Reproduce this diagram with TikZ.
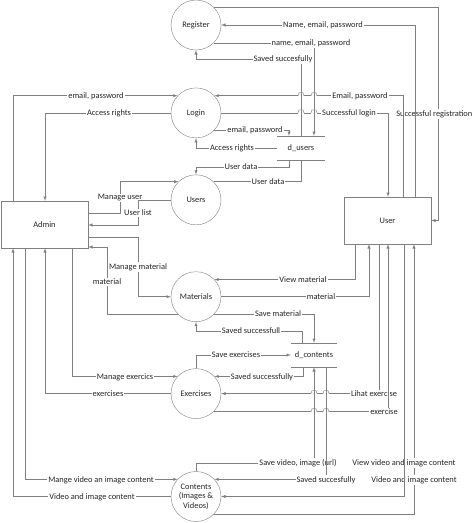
\documentclass[tikz,border=0pt]{standalone}
\usepackage{fontspec}
\setmainfont{Carlito}
\usetikzlibrary{positioning}
\usetikzlibrary{shapes}
\usetikzlibrary{arrows}

\begin{document}
\begin{tikzpicture}[x=1pt,y=-1pt,font=\fontsize{8.4}{9.4}\selectfont,
processo/.style={draw=black!50,circle,minimum size=50pt,inner sep=1pt,align=center,text=black!85},
entita/.style={draw=black!50,minimum width=87pt,minimum height=47pt,inner sep=0pt,text=black!85},
archivio/.style={minimum width=48pt,minimum height=24pt,inner sep=0pt,text=black!85},
flusso/.style={draw=black!50,line width=0.5pt,-latex},
linea/.style={draw=black!50,line width=0.5pt},
salto/.style={draw=black!40,line width=0.6pt},
etich/.style={fill=white,inner sep=1pt,text=black!85}
]
\useasboundingbox (0,0) rectangle (474,523);
\node[entita](admin) at (44.5,224.5){Admin};
\node[entita](user) at (387.5,220.5){User};
%--
\node[processo](reg) at (196,25){Register};
\node[processo,below=37.5pt of reg](login){Login};
\node[processo,below=36.5pt of login](users){Users};
\node[processo,below=46.5pt of users](mat){Materials};
\node[processo,below=46.5pt of mat](eser){Exercises};
\node[processo,below=52.5pt of eser](cont){Contents\\(Images \&\\Videos)};
%--
\node[archivio](du) at (301,148){d\_users};
\draw [linea] (du.north west) -- (du.north east) (du.south west) -- (du.south east);
\node[archivio,minimum width=46pt](dc) at (314,355){d\_contents};
\draw [linea] (dc.north west) -- (dc.north east) (dc.south west) -- (dc.south east);
%---- register
\draw [flusso] (reg.45) -| (user.east -| 438,0) -- (user.east);
\node[etich,anchor=east](t1) at (473.5,114){Successful registration};
\draw [flusso] (415,0 |- user.north) |- (reg.east);
\node[etich](t2) at (323,25){Name, email, password};
\draw [flusso] (reg.-46) -| (314,0 |- du.north);
\node[etich](t3) at (311,43){name, email, password};
\draw [flusso] (301,0 |- du.north) |- (reg.south |- 0,59) -- (reg.south);
\node[etich](t4) at (283,59){Saved succesfully};
%---- login
\draw [flusso] (13,0 |- admin.north) |- (login.137);
\node[etich](t5) at (96,96){email, password};
\draw [flusso] (login.west) -| (45,0 |- admin.north);
\node[etich](t6) at (109,113){Access rights};
\draw [linea] (403,0 |- user.north) |- (317,0 |- login.43);
\draw [linea] (311,0 |- login.43) -- (304,0 |- login.43);
\draw [flusso] (298,0 |- login.43) -- (login.43);
\draw [salto] (317,0 |- login.43) -- ++(-1,-3) -- ++(-4,0) -- ++(-1,3) (304,0 |- login.43) -- ++(-1,-3) -- ++(-4,0) -- ++(-1,3);
\node[etich](t7) at (360,96){Email, password};
\draw [linea] (login.east) -- (298,0 |- login.east);
\draw [linea] (304,0 |- login.east) -- (311,0 |- login.east);
\draw [flusso] (317,0 |- login.east) -| (388,0 |- user.north);
\draw [salto] (298,0 |- login.east) -- ++(1,-3) -- ++(4,0) -- ++(1,3) (311,0 |- login.east) -- ++(1,-3) -- ++(4,0) -- ++(1,3);
\node[etich](t8) at (349,113){Successful login};
\draw [flusso] (login.-43) -| (289,0 |- du.north);
\node[etich](t9) at (255,130){email, password};
\draw [flusso] (du.west) -| (login.south);
\node[etich](t10) at (232,148){Access rights};
%---- users
\draw [flusso] (289,0 |- du.south) |- (users.north |- 0,167) -- (users.north);
\node[etich](t11) at (241,167){User data};
\draw [linea] (users.46) -| (301,0 |- du.south);
\node[etich](t12) at (268,182){User data};
\draw [flusso] (admin.east |- 0,213) -| (120,0 |- users.134) -- (users.134);
\node[etich](t13) at (120,198){Manage user};
\draw [flusso] (users.west) -- (138,0 |- users.west) |- (admin.east |- 0,225);
\node[etich](t14) at (138,213){User list};
%---- materials
\draw [flusso] (admin.east |- 0,237) -| (138,0 |- mat.west) -- (mat.west);
\node[etich](t15) at (138,267){Manage material};
\draw [flusso] (mat.-137) -| (107,247) -- (admin.east |- 0,247);
\node[etich](t16) at (107,282){material};
\draw [flusso] (355,0 |- user.south) |- (mat.43);
\node[etich](t17) at (303,280){View material};
\draw [flusso] (mat.east) -| (369,0 |- user.south);
\node[etich](t18) at (321,297){material};
\draw [flusso] (mat.-43) -| (314,0 |- dc.north);
\node[etich](t19) at (278,314){Save material};
\draw [flusso] (302,0 |- dc.north) |- (mat.south |- 0,331) -- (mat.south);
\node[etich](t20) at (251,331){Saved successfull};
%---- exercises
\draw [flusso] (72,0 |- admin.south) |- (eser.137);
\node[etich](t21) at (125,377){Manage exercics};
\draw [flusso] (eser.west) -| (45,0 |- admin.south);
\node[etich](t22) at (108,394){exercises};
\draw [flusso] (eser.north) |- (dc.west);
\node[etich](t23) at (236,355){Save exercises};
\draw [flusso] (303,0 |- dc.south) |- (eser.43);
\node[etich](t24) at (262,377){Saved successfully};
\draw [linea] (379,0 |- user.south) |- (329,0 |- eser.east);
\draw [linea] (323,0 |- eser.east) -- (317,0 |- eser.east);
\draw [flusso] (311,0 |- eser.east) -- (eser.east);
\draw [salto] (329,0 |- eser.east) -- ++(-1,-3) -- ++(-4,0) -- ++(-1,3) (317,0 |- eser.east) -- ++(-1,-3) -- ++(-4,0) -- ++(-1,3);
\node[etich](t25) at (374,394){Lihat exercise};
\draw [linea] (eser.-46) -- (311,0 |- eser.-46);
\draw [linea] (317,0 |- eser.-46) -- (323,0 |- eser.-46);
\draw [flusso] (329,0 |- eser.-46) -| (388,0 |- user.south);
\draw [salto] (311,0 |- eser.-46) -- ++(1,-3) -- ++(4,0) -- ++(1,3) (323,0 |- eser.-46) -- ++(1,-3) -- ++(4,0) -- ++(1,3);
\node[etich](t26) at (384,412){exercise};
%---- contents
\draw [flusso] (25,0 |- admin.south) |- (cont.137);
\node[etich](t27) at (101,480){Mange video an image content};
\draw [flusso] (cont.west) -| (13,0 |- admin.south);
\node[etich](t28) at (92,497){Video and image content};
\draw [flusso] (cont.north) -- (cont.north |- 0,463) -| (314,0 |- dc.south);
\node[etich](t29) at (298,463){Save video, image (url)};
\draw [flusso] (326,0 |- dc.south) |- (cont.43);
\node[etich](t30) at (326,480){Saved succesfully};
\draw [flusso] (cont.-46) -| (414,0 |- user.south);
\node[etich](t31) at (404,463){View video and image content};
\node[etich](t32) at (414,480){Video and image content};
\draw [flusso] (404,0 |- user.south) |- (cont.east);
\end{tikzpicture}
\end{document}
